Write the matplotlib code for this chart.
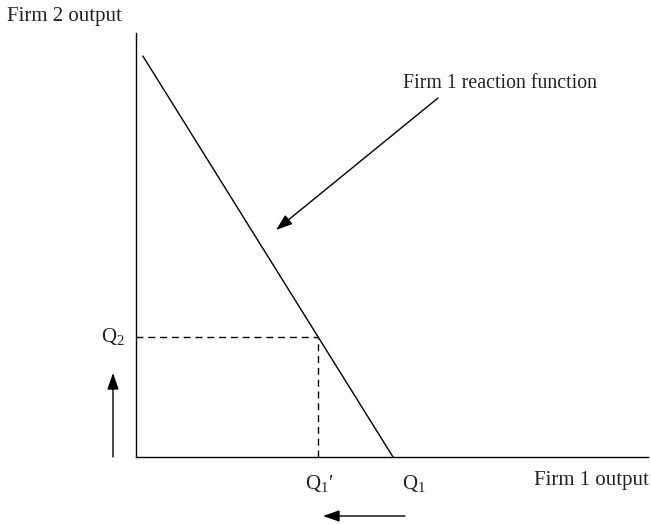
import matplotlib.pyplot as plt

plt.rcParams['font.family'] = ['Liberation Serif', 'DejaVu Serif']
plt.rcParams['mathtext.fontset'] = 'custom'
plt.rcParams['mathtext.rm'] = 'Liberation Serif'
plt.rcParams['mathtext.it'] = 'Liberation Serif'

# diagram values (origin at the axes corner)
q1 = 257            # firm 1 output where reaction line hits x axis
firm2_max = 412     # firm 2 output where reaction line would hit y axis
line_start = 7      # line drawn from this firm 1 output
q1_prime = 182      # reduced firm 1 output
q2 = firm2_max * (1 - q1_prime / q1)
x_end = 512
y_end = 424

fig = plt.figure(figsize=(6.51, 5.24), dpi=100)
ax = fig.add_axes([0, 0, 1, 1])
ax.set_xlim(-136, 515)
ax.set_ylim(-67, 457)
ax.axis('off')

lw = 1.0
# axes
ax.plot([0, 0], [0, y_end], color='black', lw=lw)
ax.plot([0, x_end], [0, 0], color='black', lw=lw)

# reaction function
xs = [line_start, q1]
ys = [firm2_max * (1 - x / q1) for x in xs]
ax.plot(xs, ys, color='black', lw=lw)

# dashed guides
ax.plot([0, q1_prime], [q2, q2], color='black', lw=lw, dashes=(5, 3.5))
ax.plot([q1_prime, q1_prime], [0, q2], color='black', lw=lw, dashes=(5, 3.5))

fs = 15
tc = '#222222'
ax.text(-129, 440, 'Firm 2 output', fontsize=fs, va='center', ha='left', color=tc)
ax.text(513, -23, 'Firm 1 output', fontsize=fs, va='center', ha='right', color=tc)
ax.text(267, 374, 'Firm 1 reaction function', fontsize=14.3, va='center', ha='left', color=tc)
ax.text(-11, q2, r'$\mathrm{Q}_2$', fontsize=fs, va='center', ha='right', color=tc)
ax.text(q1_prime + 1, -26, r'$\mathrm{Q}_1$' + '′', fontsize=fs, va='center', ha='center', color=tc)
ax.text(q1 + 9, -26, r'$\mathrm{Q}_1$', fontsize=fs, va='center', ha='left', color=tc)

arrow = dict(arrowstyle='-|>,head_length=1.0,head_width=0.35', color='black',
             lw=lw, shrinkA=0, shrinkB=0)
# pointer to the line
ax.annotate('', xy=(140, 227), xytext=(302, 359), arrowprops=arrow)
# firm 2 output rises
ax.annotate('', xy=(-23, 84), xytext=(-23, 0), arrowprops=arrow)
# firm 1 output falls
ax.annotate('', xy=(187, -59), xytext=(269, -59), arrowprops=arrow)

fig.savefig('out.png', dpi=100)
